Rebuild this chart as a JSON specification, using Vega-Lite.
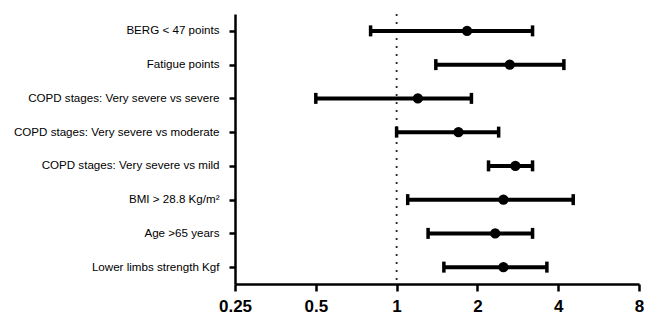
{
  "$schema": "https://vega.github.io/schema/vega-lite/v6.json",
  "width": 404,
  "height": 270,
  "autosize": {"type": "none"},
  "padding": {"left": 235, "top": 14, "right": 6, "bottom": 40},
  "background": "white",
  "config": {
    "view": {"stroke": null},
    "font": "Liberation Sans"
  },
  "data": {
    "values": [
      {"label": "BERG < 47 points", "or": 1.83, "lower": 0.8, "upper": 3.21},
      {"label": "Fatigue points", "or": 2.64, "lower": 1.4, "upper": 4.2},
      {"label": "COPD stages: Very severe vs severe", "or": 1.2, "lower": 0.5, "upper": 1.9},
      {"label": "COPD stages: Very severe vs moderate", "or": 1.7, "lower": 1.0, "upper": 2.4},
      {"label": "COPD stages: Very severe vs mild", "or": 2.77, "lower": 2.2, "upper": 3.21},
      {"label": "BMI > 28.8 Kg/m²", "or": 2.5, "lower": 1.1, "upper": 4.55},
      {"label": "Age >65 years", "or": 2.33, "lower": 1.31, "upper": 3.21},
      {"label": "Lower limbs strength Kgf", "or": 2.5, "lower": 1.5, "upper": 3.63}
    ]
  },
  "encoding": {
    "y": {
      "field": "label",
      "type": "nominal",
      "sort": null,
      "scale": {"type": "point", "padding": 0.5},
      "axis": {
        "title": null,
        "domainColor": "black",
        "domainWidth": 2.5,
        "tickColor": "black",
        "tickWidth": 2.5,
        "tickSize": 6,
        "labelFontSize": 11.6,
        "labelColor": "black",
        "labelPadding": 10,
        "labelLimit": 300,
        "grid": false
      }
    }
  },
  "layer": [
    {
      "data": {"values": [{"ref": 1}]},
      "mark": {"type": "rule", "color": "#222", "strokeWidth": 1.8, "strokeDash": [2, 6]},
      "encoding": {
        "x": {"field": "ref", "type": "quantitative"},
        "y": null
      }
    },
    {
      "mark": {"type": "rule", "color": "black", "strokeWidth": 4},
      "encoding": {
        "x": {
          "field": "lower",
          "type": "quantitative",
          "scale": {"type": "log", "base": 2, "domain": [0.25, 8], "nice": false},
          "axis": {
            "title": null,
            "values": [0.25, 0.5, 1, 2, 4, 8],
            "format": "~g",
            "domainColor": "black",
            "domainWidth": 2.5,
            "tickColor": "black",
            "tickWidth": 2.5,
            "tickSize": 7,
            "labelFontSize": 17,
            "labelFontWeight": "bold",
            "labelColor": "black",
            "labelPadding": 7,
            "labelFlush": false,
            "grid": false
          }
        },
        "x2": {"field": "upper"}
      }
    },
    {
      "mark": {"type": "tick", "color": "black", "opacity": 1, "orient": "vertical", "size": 11, "thickness": 3.5},
      "encoding": {"x": {"field": "lower", "type": "quantitative"}}
    },
    {
      "mark": {"type": "tick", "color": "black", "opacity": 1, "orient": "vertical", "size": 11, "thickness": 3.5},
      "encoding": {"x": {"field": "upper", "type": "quantitative"}}
    },
    {
      "mark": {"type": "circle", "color": "black", "opacity": 1, "size": 105},
      "encoding": {"x": {"field": "or", "type": "quantitative"}}
    }
  ]
}
